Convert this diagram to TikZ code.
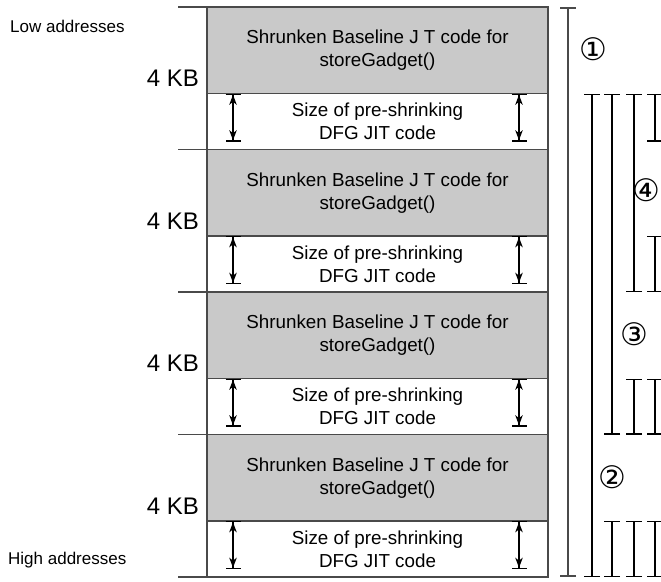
\documentclass[tikz,border=0pt]{standalone}
\usepackage{fontspec}
\setmainfont{Liberation Sans}
\newfontfamily\circfont{DejaVu Sans}
\usetikzlibrary{arrows.meta,positioning}
\definecolor{jitgrey}{HTML}{C9C9C9}
\definecolor{edgegrey}{HTML}{4A4A4A}

\tikzset{
	shrunkbox/.style={draw=edgegrey, line width=1.5pt, fill=jitgrey, minimum width=341pt, minimum height=86.5pt,
		inner sep=0pt, outer sep=0pt, align=center, font=\fontsize{18.8}{23}\selectfont},
	sizebox/.style={draw=edgegrey, line width=1.5pt, minimum width=341pt, minimum height=56pt,
		inner sep=0pt, outer sep=0pt, align=center, font=\fontsize{18.8}{23}\selectfont},
	sizearrow/.style={line width=1.3pt, {Bar[width=15pt]Stealth[length=10pt,width=7.5pt,inset=3pt]}-{Stealth[length=10pt,width=7.5pt,inset=3pt]Bar[width=15pt]}},
	spanbar/.style={line width=1.3pt, {Bar[width=16pt]}-{Bar[width=16pt]}},
	kbtext/.style={anchor=east, inner sep=0pt, font=\fontsize{24}{28}\selectfont},
	addrtext/.style={anchor=west, inner sep=0pt, font=\fontsize{17}{20}\selectfont},
	circnum/.style={inner sep=0pt, font=\circfont\fontsize{31}{31}\selectfont},
}

\begin{document}
\begin{tikzpicture}[x=1pt, y=-1pt]
	%%%%% START %%%%%
	\useasboundingbox (0, 0) rectangle (661, 581);
	\clip (0, 0) rectangle (661, 581);
	
	\foreach \i in {0,...,3} {
		\node[shrunkbox] (shrunk\i) at (377.5, {50.25+142.5*\i}) {Shrunken Baseline J T code for\\storeGadget()};
		\node[sizebox, below=0pt of shrunk\i] (presize\i) {Size of pre-shrinking\\DFG JIT code};
		\node[kbtext] (kb\i) at (199, {78.25+142.5*\i}) {4 KB};
		
		\draw[sizearrow] ([xshift=26pt]presize\i.north west) -- ([xshift=26pt, yshift=8pt]presize\i.south west);
		\draw[sizearrow] ([xshift=-29pt]presize\i.north east) -- ([xshift=-29pt, yshift=8pt]presize\i.south east);
		\draw[edgegrey, line width=1.5pt] ([xshift=-29pt]shrunk\i.north west) -- (shrunk\i.north west);
	}
	\draw[edgegrey, line width=1.5pt] ([xshift=-29pt]presize3.south west) -- (presize3.south west);
	
	\node[addrtext] (low) at (10, 26) {Low addresses};
	\node[addrtext] (high) at (8, 560) {High addresses};
	
	% spans on the right
	\coordinate (barA) at (568, 0);
	\coordinate (barB) at (592, 0);
	\coordinate (barC) at (612, 0);
	\coordinate (barD) at (634, 0);
	\coordinate (barE) at (655, 0);
	
	\draw[spanbar, draw=edgegrey, line width=1.7pt] (shrunk0.north -| barA) -- (presize3.south -| barA);
	\draw[spanbar] (presize0.north -| barB) -- (presize3.south -| barB);
	
	\draw[spanbar] (presize0.north -| barC) -- (presize2.south -| barC);
	\draw[spanbar] (presize3.north -| barC) -- (presize3.south -| barC);
	
	\draw[spanbar] (presize0.north -| barD) -- (presize1.south -| barD);
	\draw[spanbar] (presize2.north -| barD) -- (presize2.south -| barD);
	\draw[spanbar] (presize3.north -| barD) -- (presize3.south -| barD);
	
	\draw[spanbar] (presize0.north -| barE) -- ([yshift=8pt]presize0.south -| barE);
	\draw[spanbar] (presize1.north -| barE) -- (presize1.south -| barE);
	\draw[spanbar] (presize2.north -| barE) -- (presize2.south -| barE);
	\draw[spanbar] (presize3.north -| barE) -- (presize3.south -| barE);
	
	\node[circnum] (one) at (593, 49) {①};
	\node[circnum] (two) at (612, 477.5) {②};
	\node[circnum] (three) at (634, 334.5) {③};
	\node[circnum] (four) at (646, 190) {④};
	%%%%% END %%%%%
\end{tikzpicture}
\end{document}
